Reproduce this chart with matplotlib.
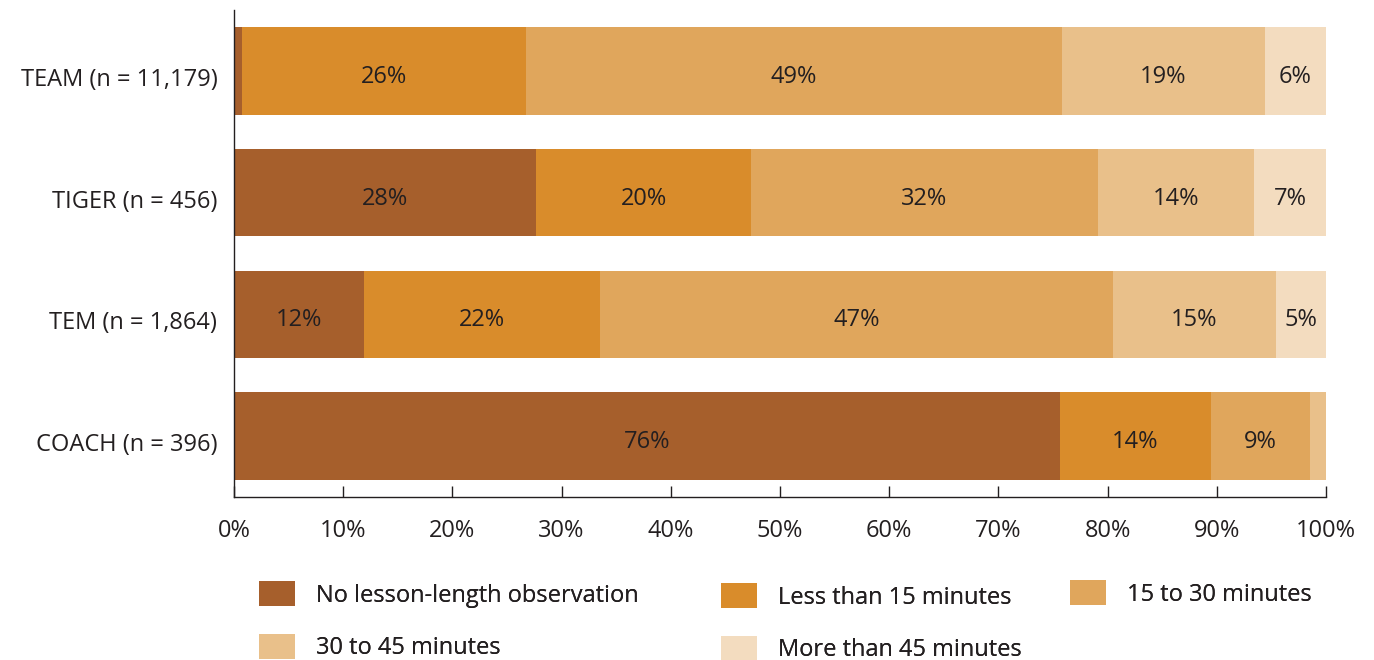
import numpy as np
import matplotlib.pyplot as plt
from matplotlib.patches import Patch

plt.rcParams['font.family'] = ['Open Sans', 'DejaVu Sans']

# share of observations by lesson length, percent
groups = ['TEAM (n = 11,179)', 'TIGER (n = 456)', 'TEM (n = 1,864)', 'COACH (n = 396)']
no_obs = [0.7, 27.7, 11.9, 75.6]
under_15 = [26.0, 19.6, 21.6, 13.9]
from_15_30 = [49.1, 31.8, 47.0, 9.0]
from_30_45 = [18.6, 14.3, 14.9, 1.5]
over_45 = [5.6, 6.6, 4.6, 0.0]

series = [no_obs, under_15, from_15_30, from_30_45, over_45]
names = ['No lesson-length observation', 'Less than 15 minutes', '15 to 30 minutes',
         '30 to 45 minutes', 'More than 45 minutes']
colors = ['#A65F2C', '#D98C2B', '#E0A65C', '#E9C08A', '#F3DCBF']
ink = '#231F20'
fs = 17

fig = plt.figure(figsize=(13.74, 6.6), dpi=100)
ax = fig.add_axes([234 / 1374, 1 - 497 / 660, 1092 / 1374, 487 / 660])

y = np.arange(len(groups))
left = np.zeros(len(groups))
for vals, c in zip(series, colors):
    vals = np.array(vals)
    ax.barh(y, vals, left=left, height=0.72, color=c, edgecolor='none')
    for yi, l, v in zip(y, left, vals):
        if v >= 4:
            ax.text(l + v / 2, yi + 0.05, f'{v:.0f}%', ha='center', va='center',
                    fontsize=fs, color=ink)
    left += vals

ax.set_xlim(0, 100)
ax.set_ylim(3.5, -0.5)
ax.set_yticks(y + 0.05)
ax.set_yticklabels(groups, fontsize=fs, color=ink)
ax.tick_params(axis='y', length=0, pad=12)
ax.set_xticks(np.arange(0, 101, 10))
ax.set_xticklabels([f'{t}%' for t in range(0, 101, 10)], fontsize=fs, color=ink)
ax.tick_params(axis='x', direction='in', length=8, width=1, color=ink, pad=16)
for s in ['top', 'right']:
    ax.spines[s].set_visible(False)
for s in ['left', 'bottom']:
    ax.spines[s].set_color(ink)
    ax.spines[s].set_linewidth(1)

# legend in three columns, each placed on its own
columns = [([0, 3], 238, 560), ([1, 4], 700, 562), ([2], 1049, 559)]
for idx, x0, y0 in columns:
    handles = [Patch(facecolor=colors[i], edgecolor='none') for i in idx]
    leg = fig.legend(handles, [names[i] for i in idx], loc='upper left',
                     bbox_to_anchor=(x0 / 1374, 1 - y0 / 660), frameon=False,
                     fontsize=fs, handlelength=1.5, handleheight=1.25,
                     handletextpad=0.9, labelspacing=1.1, labelcolor=ink)
    fig.add_artist(leg)

fig.savefig('out.png', dpi=100)
